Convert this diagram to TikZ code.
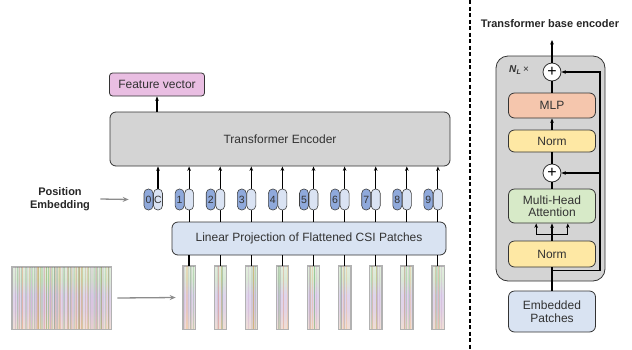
\documentclass[tikz,border=0pt]{standalone}
\usepackage{fontspec}
\setmainfont{Liberation Sans}
\usetikzlibrary{arrows.meta,calc}
\definecolor{encgray}{RGB}{212,212,212}
\definecolor{fvpink}{RGB}{233,190,226}
\definecolor{projblue}{RGB}{217,227,242}
\definecolor{pilldark}{RGB}{143,169,219}
\definecolor{pilllight}{RGB}{218,227,243}
\definecolor{mlpsalmon}{RGB}{245,198,173}
\definecolor{normyellow}{RGB}{254,232,164}
\definecolor{mhagreen}{RGB}{215,234,200}
\definecolor{linegray}{RGB}{140,140,140}
\definecolor{txt}{RGB}{50,50,50}
\definecolor{csiT}{RGB}{244,246,244}
\definecolor{csiA}{RGB}{230,238,226}
\definecolor{csiB}{RGB}{218,233,214}
\definecolor{csiC}{RGB}{222,212,236}
\definecolor{csiD}{RGB}{226,212,230}
\definecolor{csiE}{RGB}{244,226,206}
\definecolor{csiF}{RGB}{253,249,244}
\pgfdeclareverticalshading{csi}{100bp}{color(0bp)=(csiF); color(20bp)=(csiE); color(40bp)=(csiD); color(52bp)=(csiC); color(65bp)=(csiB); color(80bp)=(csiA); color(100bp)=(csiT)}
\begin{document}
\begin{tikzpicture}[x=1pt,y=-1pt,
  box/.style={draw=black!80, line width=0.8pt, rounded corners=6pt, align=center, inner sep=0pt, text=txt, font=\fontsize{12}{14.5}\selectfont},
  conn/.style={line width=1.1pt, -{Stealth[length=4.5pt,width=3.6pt]}},
  plainline/.style={line width=1.1pt},
  garrow/.style={draw=linegray, line width=1.3pt, -{Stealth[length=6pt,width=5pt]}},
  pillbase/.style={draw=black!75, line width=0.6pt, rounded corners=4.3pt, minimum width=9pt, minimum height=21pt, inner sep=0pt, text=txt, font=\fontsize{10.5}{12}\selectfont},
  dpill/.style={pillbase, fill=pilldark},
  lpill/.style={pillbase, fill=pilllight},
  plus/.style={circle, draw=black!80, fill=white, line width=0.8pt, minimum size=18pt, inner sep=0pt, font=\fontsize{16}{16}\selectfont},
  patch/.style={draw=black!30, line width=0.6pt, shading=csi, minimum width=12pt, minimum height=63pt, inner sep=0pt},
  streak/.style={line width=0.3pt, opacity=0.16}
]
\useasboundingbox (0,0) rectangle (632,349);

% ---------------- left part ----------------
\node[box, fill=encgray, minimum width=340pt, minimum height=54pt] (enc) at (280,139) {Transformer Encoder};
\node[box, fill=fvpink, rounded corners=3pt, minimum width=95pt, minimum height=23pt] (fv) at (157,84.5) {Feature vector};
\draw[conn] (enc.north -| fv) -- (fv.south);

\node[box, fill=projblue, minimum width=274pt, minimum height=33pt] (proj) at (309,238.5) {Linear Projection of Flattened CSI Patches};

% patches
\foreach \i in {1,...,9}{
  \node[patch] (pt\i) at ({189+31.1*(\i-1)},297.5) {};
}
\pgfmathsetseed{11}
\foreach \i in {1,...,9}{
  \foreach \k in {1,...,8}{
    \pgfmathsetmacro\xx{0.1+0.8*rnd}
    \pgfmathsetmacro\cc{int(mod(\k,4))}
    \ifnum\cc=0 \def\sc{gray}\fi
    \ifnum\cc=1 \def\sc{violet!60}\fi
    \ifnum\cc=2 \def\sc{green!50!black}\fi
    \ifnum\cc=3 \def\sc{orange}\fi
    \draw[streak, draw=\sc] ($(pt\i.south west)!\xx!(pt\i.south east)$) -- ($(pt\i.north west)!\xx!(pt\i.north east)$);
  }
  \draw[draw=black!30, line width=0.6pt] (pt\i.south west) rectangle (pt\i.north east);
  \draw[plainline] (proj.south -| pt\i) -- (pt\i.north);
}

% tokens
\foreach \i in {0,...,9}{
  \coordinate (tk\i) at ({158+31.1*\i},199.5);
}
\draw[conn] (tk0) -- (enc.south -| tk0);
\foreach \i in {1,...,9}{
  \draw[conn] (proj.north -| tk\i) -- (enc.south -| tk\i);
}
\node[lpill] (lp0) at (tk0) {C};
\node[dpill] (dp0) at ($(tk0)+(-9.5,0)$) {0};
\foreach \i in {1,...,9}{
  \node[lpill] (lp\i) at (tk\i) {};
  \node[dpill] (dp\i) at ($(tk\i)+(-9.5,0)$) {\i};
}

\node[align=center, text=black!85, font=\bfseries\fontsize{11}{13}\selectfont] (pe) at (60,199) {Position\\Embedding};
\draw[garrow] ([xshift=7pt]pe.east) -- ([xshift=-15pt]dp0.west);

% CSI image
\node[patch, minimum width=99pt, minimum height=62pt] (img) at (61.5,298) {};
\pgfmathsetseed{5}
\foreach \k in {1,...,140}{
  \pgfmathsetmacro\xx{0.02+0.96*rnd}
  \pgfmathsetmacro\cc{int(mod(\k,4))}
  \ifnum\cc=0 \def\sc{gray}\fi
  \ifnum\cc=1 \def\sc{violet!60}\fi
  \ifnum\cc=2 \def\sc{green!50!black}\fi
  \ifnum\cc=3 \def\sc{orange}\fi
  \draw[streak, opacity=0.13, draw=\sc] ($(img.south west)!\xx!(img.south east)$) -- ($(img.north west)!\xx!(img.north east)$);
}
\draw[draw=black!30, line width=0.6pt] (img.south west) rectangle (img.north east);
\draw[garrow] ([xshift=6pt]img.east) -- ([xshift=-7pt]pt1.west);

% separator
\draw[line width=1.5pt, dash pattern=on 4pt off 2.5pt] (470,0) -- (470,349);

% ---------------- right part ----------------
\node[font=\bfseries\fontsize{11}{13}\selectfont, text=black!85] (title) at (550,24) {Transformer base encoder};
\node[draw=black!80, line width=0.8pt, fill=encgray, rounded corners=12pt, minimum width=109pt, minimum height=225pt, inner sep=0pt] (gbox) at (550.5,168.5) {};
\node[font=\fontsize{10}{12}\selectfont, text=txt] (nl) at (519,70) {\textbf{\textit{N}}\textsubscript{\textbf{\textit{L}}}\,×};

\node[plus] (p1) at (552,72) {+};
\node[box, fill=mlpsalmon, minimum width=87pt, minimum height=25pt] (mlp) at (552,105.5) {MLP};
\node[box, fill=normyellow, minimum width=87pt, minimum height=22pt] (normt) at (552,141) {Norm};
\node[plus] (p2) at (552,173) {+};
\node[box, fill=mhagreen, minimum width=87pt, minimum height=34pt] (mha) at (552,206) {Multi-Head\\[-2pt]Attention};
\node[box, fill=normyellow, minimum width=87pt, minimum height=26pt] (normb) at (552,254) {Norm};
\node[box, fill=projblue, minimum width=87pt, minimum height=41pt] (emb) at (552,311.5) {Embedded\\[-1pt]Patches};

\coordinate (out) at (552,40);
\coordinate (rr) at (600,0);
\draw[conn] (p1.north) -- (out);
\draw[plainline] (mlp.north) -- (p1.south);
\draw[conn] (normt.north) -- (mlp.south);
\draw[plainline] (p2.north) -- (normt.south);
\draw[plainline] (mha.north) -- (p2.south);
\draw[plainline] (emb.north) -- (normb.south);
\draw[plainline] (normb.north) -- ++(0,-6) coordinate (sp);
\coordinate (mL) at ($(mha.south west)!0.32!(mha.south east)$);
\coordinate (mR) at ($(mha.south west)!0.68!(mha.south east)$);
\draw[conn] (sp) -- (mha.south);
\draw[conn] (sp) -| (mL);
\draw[conn] (sp) -| (mR);
\coordinate (r0) at ($(normb.south)+(0,3)$);
\draw[conn] (r0) -- (r0 -| rr) -- (p1 -| rr) -- (p1.east);
\draw[conn] (p2 -| rr) -- (p2.east);
\end{tikzpicture}
\end{document}
